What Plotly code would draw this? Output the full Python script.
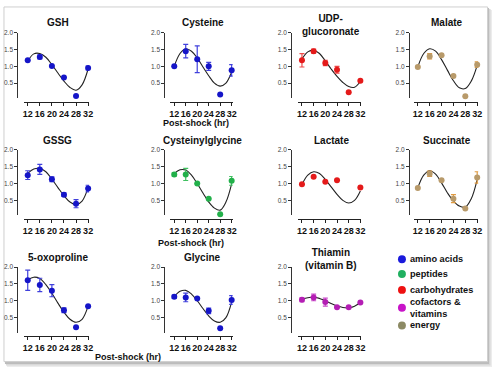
import plotly.graph_objects as go

# ---------------- data ----------------
hours = [12, 16, 20, 24, 28, 32]
curve_hours = [12, 14, 16, 18, 20, 22, 24, 26, 28, 30, 32]
x_ticks = [12, 16, 20, 24, 28, 32]
y_ticks = [0.5, 1.0, 1.5, 2.0]
y_tick_labels = ["0.5", "1.0", "1.5", "2.0"]

titles = ["GSH", "Cysteine", "UDP-<br>glucoronate", "Malate",
          "GSSG", "Cysteinylglycine", "Lactate", "Succinate",
          "5-oxoproline", "Glycine", "Thiamin<br>(vitamin B)"]
classes = ["amino acids", "amino acids", "carbohydrates", "energy",
           "amino acids", "peptides", "carbohydrates", "energy",
           "amino acids", "amino acids", "cofactors & vitamins"]

gsh_mean = [1.18, 1.28, 1.01, 0.67, 0.12, 0.95]
gsh_err = [0, 0.06, 0, 0, 0, 0.06]
gsh_fit = [1.15, 1.37, 1.38, 1.27, 1.05, 0.80, 0.56, 0.37, 0.29, 0.45, 0.92]

cysteine_mean = [1.00, 1.45, 1.21, 1.00, 0.16, 0.88]
cysteine_err = [0, 0.20, 0.40, 0.12, 0, 0.17]
cysteine_fit = [1.00, 1.38, 1.52, 1.45, 1.25, 0.98, 0.72, 0.50, 0.41, 0.50, 0.83]

udp_mean = [1.18, 1.45, 1.10, 0.90, 0.23, 0.57]
udp_err = [0.20, 0.06, 0.08, 0.10, 0, 0]
udp_fit = [1.22, 1.43, 1.48, 1.38, 1.16, 0.92, 0.70, 0.52, 0.40, 0.38, 0.55]

malate_mean = [0.98, 1.30, 1.33, 0.71, 0.11, 1.05]
malate_err = [0, 0.08, 0, 0, 0, 0.08]
malate_fit = [0.98, 1.38, 1.52, 1.45, 1.20, 0.88, 0.57, 0.36, 0.34, 0.56, 1.03]

gssg_mean = [1.25, 1.42, 1.13, 0.67, 0.40, 0.85]
gssg_err = [0.13, 0.15, 0.07, 0.05, 0.12, 0.10]
gssg_fit = [1.30, 1.43, 1.45, 1.35, 1.13, 0.88, 0.64, 0.45, 0.37, 0.48, 0.88]

cysgly_mean = [1.27, 1.27, 1.00, 0.55, 0.09, 1.08]
cysgly_err = [0.05, 0.18, 0, 0, 0, 0.13]
cysgly_fit = [1.30, 1.41, 1.40, 1.25, 1.00, 0.72, 0.45, 0.27, 0.21, 0.45, 1.00]

lactate_mean = [0.98, 1.20, 1.05, 1.10, None, 0.88]
lactate_err = [0, 0, 0, 0, 0, 0]
lactate_fit = [0.97, 1.25, 1.35, 1.30, 1.12, 0.90, 0.68, 0.50, 0.42, 0.50, 0.78]

succinate_mean = [0.87, 1.29, 1.10, 0.55, 0.26, 1.18]
succinate_err = [0, 0.08, 0, 0.12, 0, 0.17]
succinate_fit = [0.87, 1.25, 1.38, 1.28, 1.02, 0.72, 0.48, 0.33, 0.30, 0.55, 1.12]

oxopro_mean = [1.61, 1.47, 1.30, 0.72, 0.21, 0.84]
oxopro_err = [0.30, 0.20, 0.18, 0.07, 0, 0]
oxopro_fit = [1.62, 1.70, 1.66, 1.48, 1.22, 0.93, 0.66, 0.45, 0.36, 0.45, 0.84]

glycine_mean = [1.12, 1.10, 1.07, 0.70, 0.18, 1.02]
glycine_err = [0.05, 0.13, 0, 0.08, 0, 0.13]
glycine_fit = [1.12, 1.28, 1.31, 1.20, 1.00, 0.77, 0.55, 0.40, 0.36, 0.50, 0.97]

thiamin_mean = [1.03, 1.10, 0.96, 0.81, 0.81, 0.95]
thiamin_err = [0.06, 0.10, 0.12, 0, 0, 0]
thiamin_fit = [1.04, 1.09, 1.11, 1.07, 1.00, 0.92, 0.85, 0.80, 0.79, 0.84, 0.95]

legend_labels = ["amino acids", "peptides", "carbohydrates", "cofactors &<br>vitamins", "energy"]
legend_classes = ["amino acids", "peptides", "carbohydrates", "cofactors & vitamins", "energy"]

means = [gsh_mean, cysteine_mean, udp_mean, malate_mean, gssg_mean, cysgly_mean,
         lactate_mean, succinate_mean, oxopro_mean, glycine_mean, thiamin_mean]
errs = [gsh_err, cysteine_err, udp_err, malate_err, gssg_err, cysgly_err,
        lactate_err, succinate_err, oxopro_err, glycine_err, thiamin_err]
fits = [gsh_fit, cysteine_fit, udp_fit, malate_fit, gssg_fit, cysgly_fit,
        lactate_fit, succinate_fit, oxopro_fit, glycine_fit, thiamin_fit]

# ---------------- styles ----------------
W, H = 500, 371
marker_col = {"amino acids": "#1515c8", "peptides": "#22b04a", "carbohydrates": "#e41a1a",
              "cofactors & vitamins": "#b41eb4", "energy": "#b89a6a"}
err_col = {"amino acids": "#4040dc", "peptides": "#40c060", "carbohydrates": "#ee4a4a",
           "cofactors & vitamins": "#c84ac8", "energy": "#e09a40"}
legend_col = {"amino acids": "#1a1adc", "peptides": "#20b060", "carbohydrates": "#ee1111",
              "cofactors & vitamins": "#c814c8", "energy": "#8c8a64"}
FONT = "Liberation Sans, Arial, sans-serif"

col_yaxis = [16.5, 165, 293, 412]
col_x12 = [27, 175, 304, 421]
col_x32 = [88, 233, 363, 481]
row_y2 = [29, 147.5, 266]
Y_LO, Y_HI = 0.05, 2.0
PX_PER_UNIT = 34.0

fig = go.Figure()
layout_axes = {}
annotations = []

for i in range(len(titles)):
    r, c = divmod(i, 4)
    n = i + 1
    xa = "x" if n == 1 else f"x{n}"
    ya = "y" if n == 1 else f"y{n}"
    xk = "xaxis" if n == 1 else f"xaxis{n}"
    yk = "yaxis" if n == 1 else f"yaxis{n}"
    cls = classes[i]

    fig.add_trace(go.Scatter(x=curve_hours, y=fits[i], mode="lines",
                             line=dict(color="#222222", width=1.1, shape="spline", smoothing=1.0),
                             xaxis=xa, yaxis=ya, showlegend=False, hoverinfo="skip",
                             cliponaxis=False))
    fig.add_trace(go.Scatter(x=hours, y=means[i], mode="markers",
                             marker=dict(color=marker_col[cls], size=6),
                             error_y=dict(type="data", array=errs[i], visible=True,
                                          color=err_col[cls], thickness=1.2, width=2.5),
                             xaxis=xa, yaxis=ya, showlegend=False, cliponaxis=False))

    x12, x32 = col_x12[c], col_x32[c]
    ppu = (x32 - x12) / 20.0
    xl, xr = x12 - 4, x32 + 1
    y2 = row_y2[r]
    ybot = y2 + (Y_HI - Y_LO) * PX_PER_UNIT
    layout_axes[xk] = dict(domain=[xl / W, xr / W], range=[12 - 4 / ppu, 32 + 1 / ppu],
                           anchor="free", position=1 - (y2 + 70) / H,
                           showline=True, linecolor="#222222", linewidth=1,
                           tickvals=x_ticks, ticks="outside", ticklen=3, tickcolor="#222222",
                           tickangle=0, showgrid=False, zeroline=False,
                           tickfont=dict(family=FONT, size=9, color="#111111", weight="bold"))
    layout_axes[yk] = dict(domain=[1 - ybot / H, 1 - y2 / H], range=[Y_LO, Y_HI],
                           anchor="free", position=col_yaxis[c] / W,
                           showline=True, linecolor="#333333", linewidth=1,
                           tickvals=y_ticks, ticktext=y_tick_labels, ticks="outside",
                           ticklen=3, tickcolor="#333333", showgrid=False, zeroline=False,
                           tickfont=dict(family=FONT, size=6.5, color="#444444"))
    two_line = "<br>" in titles[i]
    annotations.append(dict(text=titles[i], x=(x12 + x32) / 2 / W,
                            y=1 - (y2 - (8 if two_line else 10)) / H,
                            xref="paper", yref="paper", showarrow=False,
                            xanchor="center", yanchor="middle",
                            font=dict(family=FONT, size=10, color="#111111", weight="bold")))

for (px, py) in [(197, 120), (192, 242), (128, 357)]:
    annotations.append(dict(text="Post-shock (hr)", x=px / W, y=1 - py / H,
                            xref="paper", yref="paper", showarrow=False,
                            xanchor="center", yanchor="middle",
                            font=dict(family=FONT, size=9, color="#111111", weight="bold")))

# legend (text + swatches)
legend_y = [258, 273, 289, 307, 325]
shapes = []
# frame with drop shadow
for (x0, y0, x1, y1, col) in [(6, 6, 496, 367, "#ececec"), (5, 5, 494.5, 365.5, "#d8d8d8"),
                              (4, 4, 493, 364, "#bcbcbc")]:
    shapes.append(dict(type="rect", xref="paper", yref="paper", x0=x0 / W, x1=x1 / W,
                       y0=1 - y1 / H, y1=1 - y0 / H, fillcolor=col, line=dict(width=0),
                       layer="below"))
shapes.append(dict(type="rect", xref="paper", yref="paper", x0=3 / W, x1=491.5 / W,
                   y0=1 - 361.5 / H, y1=1 - 3 / H, fillcolor="white",
                   line=dict(color="#cfcfcf", width=1), layer="below"))
for lab, cls, ly in zip(legend_labels, legend_classes, legend_y):
    shapes.append(dict(type="circle", xref="paper", yref="paper",
                       x0=401 / W, x1=409 / W, y0=1 - (ly + 4) / H, y1=1 - (ly - 4) / H,
                       fillcolor=legend_col[cls], line=dict(width=0)))
    annotations.append(dict(text=lab, x=411 / W, y=1 - ly / H, xref="paper", yref="paper",
                            showarrow=False, xanchor="left", yanchor="middle", align="left",
                            font=dict(family=FONT, size=9.2, color="#111111", weight="bold")))

fig.update_layout(width=W, height=H, margin=dict(l=0, r=0, t=0, b=0),
                  paper_bgcolor="white", plot_bgcolor="rgba(0,0,0,0)",
                  showlegend=False, annotations=annotations, shapes=shapes, **layout_axes)

fig.write_html("out.html", config={"displayModeBar": False},
               post_script="document.body.style.margin='0';document.body.style.padding='0';")
